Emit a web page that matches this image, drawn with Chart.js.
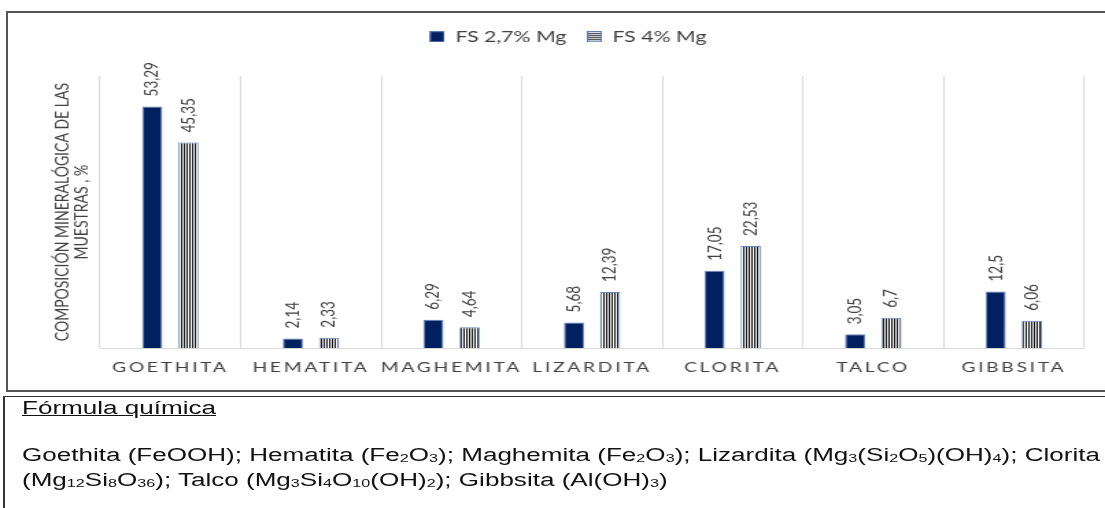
<!DOCTYPE html>
<html>
<head>
<meta charset="utf-8">
<script src="https://cdn.jsdelivr.net/npm/chart.js@4.4.0/dist/chart.umd.min.js"></script>
<style>
  html, body { margin: 0; padding: 0; background: #fff; width: 1105px; height: 508px; overflow: hidden; }
  body { position: relative; }
  /* the original figure is stretched sideways; draw narrow and widen */
  #chartWrap { position: absolute; left: 0; top: 0; width: 806px; height: 390px; transform-origin: 0 0; transform: scaleX(1.371); }
  #chartBox { position: absolute; left: 6px; top: 11px; width: 1200px; height: 377px;
    border-left: 2px solid #555; border-top: 2px solid #555; border-bottom: 2px solid #555; pointer-events: none; }
  #noteBox { position: absolute; left: 3px; top: 396px; width: 1200px; height: 200px;
    border-left: 2px solid #333; border-top: 1px solid #333; }
  #noteText { position: absolute; left: 22px; top: 396px; font-family: 'Liberation Sans', Arial, sans-serif;
    font-size: 18px; color: #111; transform-origin: 0 0; white-space: nowrap; }
  #noteText div { position: absolute; left: 0; line-height: 20px; }
  #noteHead { top: 2px; text-decoration: underline; }
  #noteL1 { top: 49px; }
  #noteL2 { top: 74px; }
  sub { font-size: 0.62em; vertical-align: -0.12em; line-height: 0; }
</style>
</head>
<body>
<div id="chartWrap"><canvas id="chart" width="806" height="390"></canvas></div>
<div id="chartBox"></div>
<div id="noteBox"></div>
<div id="noteText">
  <div id="noteHead">Fórmula química</div>
  <div id="noteL1">Goethita (FeOOH); Hematita (Fe<sub>2</sub>O<sub>3</sub>); Maghemita (Fe<sub>2</sub>O<sub>3</sub>); Lizardita (Mg<sub>3</sub>(Si<sub>2</sub>O<sub>5</sub>)(OH)<sub>4</sub>); Clorita</div>
  <div id="noteL2">(Mg<sub>12</sub>Si<sub>8</sub>O<sub>36</sub>); Talco (Mg<sub>3</sub>Si<sub>4</sub>O<sub>10</sub>(OH)<sub>2</sub>); Gibbsita (Al(OH)<sub>3</sub>)</div>
</div>
<script>
// data
const categories = ["GOETHITA", "HEMATITA", "MAGHEMITA", "LIZARDITA", "CLORITA", "TALCO", "GIBBSITA"];
const seriesNames = ["FS 2,7% Mg", "FS 4% Mg"];
const fs27 = [53.29, 2.14, 6.29, 5.68, 17.05, 3.05, 12.5];
const fs4 = [45.35, 2.33, 4.64, 12.39, 22.53, 6.7, 6.06];
const yTitle = ["COMPOSICIÓN MINERALÓGICA DE LAS", "MUESTRAS , %"];
const yMax = 60;

const textColor = "#404040";
const fontFamily = "Lato, 'Open Sans', sans-serif";

// striped fill for the second series
function stripePattern() {
  const c = document.createElement("canvas");
  c.width = 2;
  c.height = 1;
  const g = c.getContext("2d");
  g.fillStyle = "#ffffff";
  g.fillRect(0, 0, 2, 1);
  g.fillStyle = "#111111";
  g.fillRect(0, 0, 1, 1);
  return document.getElementById("chart").getContext("2d").createPattern(c, "repeat");
}

// legend markers
function marker(striped) {
  const c = document.createElement("canvas");
  c.width = 11;
  c.height = 11;
  const g = c.getContext("2d");
  g.fillStyle = striped ? "#ffffff" : "#002060";
  g.fillRect(0, 0, 11, 11);
  if (striped) {
    g.fillStyle = "#222222";
    for (let y = 2; y < 10; y += 2) g.fillRect(1, y, 9, 1);
  }
  g.strokeStyle = "#5b7cbd";
  g.lineWidth = 1;
  g.strokeRect(0.5, 0.5, 10, 10);
  return c;
}
const markers = [marker(false), marker(true)];

const barLabels = {
  id: "barLabels",
  afterDatasetsDraw(chart) {
    const ctx = chart.ctx;
    ctx.save();
    ctx.font = "13.5px " + fontFamily;
    ctx.fillStyle = textColor;
    ctx.textAlign = "left";
    ctx.textBaseline = "middle";
    chart.data.datasets.forEach((ds, i) => {
      chart.getDatasetMeta(i).data.forEach((bar, j) => {
        ctx.save();
        ctx.translate(bar.x, bar.y - 10);
        ctx.rotate(-Math.PI / 2);
        ctx.fillText(String(ds.data[j]).replace(".", ","), 0, 0);
        ctx.restore();
      });
    });
    ctx.restore();
    // category labels are drawn next (ticks z: 1), spaced out
    ctx.letterSpacing = "2px";
  },
  afterDraw(chart) {
    chart.ctx.letterSpacing = "0px";
  },
};

new Chart(document.getElementById("chart"), {
  type: "bar",
  data: {
    labels: categories,
    datasets: [
      {
        label: seriesNames[0],
        data: fs27,
        backgroundColor: "#002060",
        borderColor: "#6a86c0",
        borderWidth: 1,
        categoryPercentage: 0.515,
        barPercentage: 0.556,
      },
      {
        label: seriesNames[1],
        data: fs4,
        backgroundColor: stripePattern(),
        borderColor: "#6a86c0",
        borderWidth: 1,
        categoryPercentage: 0.515,
        barPercentage: 0.556,
      },
    ],
  },
  options: {
    responsive: false,
    animation: false,
    layout: { padding: { left: 38, right: 15.3, top: 14, bottom: 3 } },
    plugins: {
      legend: {
        position: "top",
        labels: {
          usePointStyle: true,
          pointStyleWidth: 11,
          padding: 15,
          color: textColor,
          font: { family: fontFamily, size: 15.5 },
          generateLabels: (chart) =>
            chart.data.datasets.map((ds, i) => ({
              text: ds.label,
              pointStyle: markers[i],
              fontColor: textColor,
              datasetIndex: i,
              hidden: false,
              lineWidth: 0,
              strokeStyle: "transparent",
              fillStyle: "transparent",
            })),
        },
      },
      // empty spacer between legend and plot
      title: {
        display: true,
        text: "",
        weight: 500,
        padding: { top: 0, bottom: 20.3 },
        font: { size: 1, lineHeight: 1.2 },
      },
      tooltip: { enabled: false },
    },
    scales: {
      x: {
        grid: { offset: true, color: "#d9d9d9", drawTicks: false },
        border: { color: "#d9d9d9" },
        ticks: {
          color: textColor,
          font: { family: fontFamily, size: 14 },
          padding: 11,
          maxRotation: 0,
          autoSkip: false,
          z: 1,
        },
      },
      y: {
        min: 0,
        max: yMax,
        grid: { display: false },
        border: { display: false },
        ticks: { display: false },
        title: {
          display: true,
          text: yTitle,
          color: textColor,
          padding: 0,
          font: { family: fontFamily, size: 14, lineHeight: "14.6px" },
        },
        afterFit(scale) {
          scale.width = 35;
        },
      },
    },
  },
  plugins: [barLabels],
});

// the note text is stretched wide in the original
const note = document.getElementById("noteText");
const w = document.getElementById("noteL1").offsetWidth;
note.style.transform = "scaleX(" + (1078 / w) + ")";
</script>
</body>
</html>
